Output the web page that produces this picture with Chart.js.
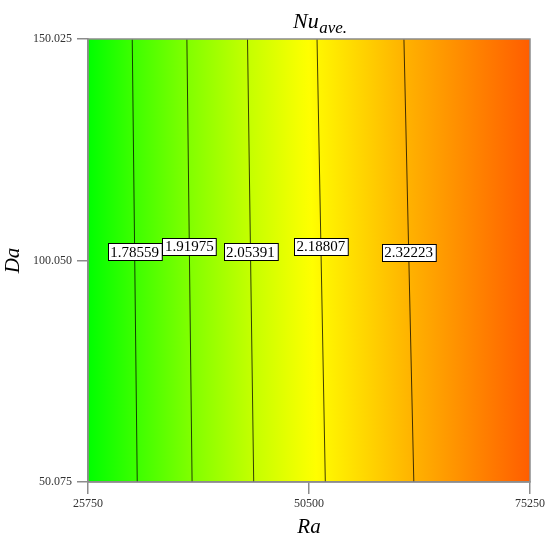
<!DOCTYPE html>
<html>
<head>
<meta charset="utf-8">
<script src="https://cdn.jsdelivr.net/npm/chart.js@4"></script>
<style>html,body{margin:0;padding:0;background:#fff}canvas{display:block}</style>
</head>
<body>
<canvas id="c" width="549" height="540"></canvas>
<script>
// Axis ranges and tick values
const raRange = [25750, 75250];
const daRange = [50.075, 150.025];
const raTicks = [25750, 50500, 75250];
const daTicks = [50.075, 100.050, 150.025];

// Contour levels of the average Nusselt number and where each isoline
// meets the top (Da = 150.025) and bottom (Da = 50.075) edges
const levels = [1.78559, 1.91975, 2.05391, 2.18807, 2.32223];
const levelRaTop = [30705, 36824, 43614, 51400, 61132];
const levelRaBottom = [31265, 37406, 44308, 52328, 62239];
// Da at which each contour label sits
const labelDa = [102.0, 103.2, 102.0, 103.2, 101.9];
// Nu along the left (Ra min) and right (Ra max) edges of the field
const edgeNu = [1.665, 2.49];

const SERIF = '"Liberation Serif", "DejaVu Serif", serif';

// Green -> yellow -> orange-red colour map over the Nu range
function nuColor(v) {
  let t = (v - edgeNu[0]) / (edgeNu[1] - edgeNu[0]);
  t = Math.max(0, Math.min(1, t));
  const hue = 120 - 98 * t;
  return 'hsl(' + hue.toFixed(2) + ',100%,50%)';
}

function raAt(i, da) {
  const f = (da - daRange[0]) / (daRange[1] - daRange[0]);
  return levelRaBottom[i] + (levelRaTop[i] - levelRaBottom[i]) * f;
}

const fieldPlugin = {
  id: 'nuField',
  beforeDraw(chart) {
    const {ctx, chartArea: a, scales: {x, y}} = chart;
    const yTop = y.getPixelForValue(daRange[1]);
    const yBot = y.getPixelForValue(daRange[0]);
    const left = x.getPixelForValue(raRange[0]);
    const right = x.getPixelForValue(raRange[1]);
    ctx.save();
    for (let py = Math.floor(a.top); py < Math.ceil(a.bottom); py++) {
      const f = (py + 0.5 - yTop) / (yBot - yTop);
      const pts = [{x: left, v: edgeNu[0]}];
      levels.forEach((lv, i) => {
        const xt = x.getPixelForValue(levelRaTop[i]);
        const xb = x.getPixelForValue(levelRaBottom[i]);
        pts.push({x: xt + (xb - xt) * f, v: lv});
      });
      pts.push({x: right, v: edgeNu[1]});
      const g = ctx.createLinearGradient(left, 0, right, 0);
      for (let s = 0; s < pts.length - 1; s++) {
        const p0 = pts[s], p1 = pts[s + 1];
        const n = 8;
        for (let k = 0; k <= n; k++) {
          const xx = p0.x + (p1.x - p0.x) * k / n;
          const vv = p0.v + (p1.v - p0.v) * k / n;
          const off = Math.max(0, Math.min(1, (xx - left) / (right - left)));
          g.addColorStop(off, nuColor(vv));
        }
      }
      ctx.fillStyle = g;
      ctx.fillRect(a.left, py, a.right - a.left, 1);
    }
    ctx.restore();
  }
};

const overlayPlugin = {
  id: 'overlay',
  afterDatasetsDraw(chart) {
    const {ctx, chartArea: a, scales: {x, y}} = chart;
    ctx.save();
    // frame
    ctx.strokeStyle = '#8c8c8c';
    ctx.lineWidth = 1.5;
    ctx.strokeRect(a.left, a.top, a.right - a.left, a.bottom - a.top);
    // contour labels
    ctx.font = '15px ' + SERIF;
    ctx.textAlign = 'center';
    ctx.textBaseline = 'middle';
    levels.forEach((lv, i) => {
      const da = labelDa[i];
      const px = x.getPixelForValue(raAt(i, da));
      const py = y.getPixelForValue(da);
      const txt = lv.toFixed(5);
      const w = ctx.measureText(txt).width + 5;
      const h = 17;
      const bx = Math.round(px - w / 2) + 0.5;
      const by = Math.round(py - h / 2) + 0.5;
      ctx.fillStyle = '#fff';
      ctx.fillRect(bx, by, w, h);
      ctx.strokeStyle = '#000';
      ctx.lineWidth = 1;
      ctx.strokeRect(bx, by, w, h);
      ctx.fillStyle = '#000';
      ctx.fillText(txt, px, py + 1);
    });
    ctx.restore();
  },
  afterDraw(chart) {
    const {ctx} = chart;
    ctx.save();
    ctx.fillStyle = '#000';
    ctx.textBaseline = 'alphabetic';
    ctx.textAlign = 'left';
    ctx.font = 'italic 22px ' + SERIF;
    const main = 'Nu';
    const x0 = 293;
    ctx.fillText(main, x0, 28);
    const w = ctx.measureText(main).width;
    ctx.font = 'italic 17px ' + SERIF;
    ctx.fillText('ave.', x0 + w + 0.5, 33);
    ctx.restore();
  }
};

const datasets = levels.map((lv, i) => ({
  label: lv.toFixed(5),
  data: [
    {x: levelRaTop[i], y: daRange[1]},
    {x: levelRaBottom[i], y: daRange[0]}
  ],
  showLine: true,
  borderColor: 'rgba(0,0,0,0.75)',
  borderWidth: 1,
  pointRadius: 0,
  fill: false
}));

const axisColor = '#8c8c8c';
const tickFont = {family: SERIF, size: 12};

new Chart(document.getElementById('c'), {
  type: 'scatter',
  data: {datasets},
  plugins: [fieldPlugin, overlayPlugin],
  options: {
    responsive: false,
    animation: false,
    devicePixelRatio: 1,
    layout: {padding: {left: 0, right: 19, top: 39, bottom: 0}},
    plugins: {legend: {display: false}, tooltip: {enabled: false}, title: {display: false}},
    scales: {
      x: {
        type: 'linear',
        min: raRange[0],
        max: raRange[1],
        afterBuildTicks(s) { s.ticks = raTicks.map(v => ({value: v})); },
        afterFit(s) { s.height = 58; },
        ticks: {
          font: tickFont, color: '#333', padding: 3, maxRotation: 0,
          callback: v => String(v)
        },
        grid: {display: true, drawOnChartArea: false, drawTicks: true, tickLength: 12, color: axisColor, lineWidth: 1.5},
        border: {display: true, color: axisColor, width: 1.5},
        title: {display: true, text: 'Ra', color: '#000', font: {family: SERIF, size: 21, style: 'italic'}, padding: {top: 0, bottom: 0}}
      },
      y: {
        type: 'linear',
        min: daRange[0],
        max: daRange[1],
        afterBuildTicks(s) { s.ticks = daTicks.map(v => ({value: v})); },
        afterFit(s) { s.width = 88; },
        ticks: {
          font: tickFont, color: '#333', padding: 5,
          callback: v => Number(v).toFixed(3)
        },
        grid: {display: true, drawOnChartArea: false, drawTicks: true, tickLength: 11, color: axisColor, lineWidth: 1.5},
        border: {display: true, color: axisColor, width: 1.5},
        title: {display: true, text: 'Da', color: '#000', font: {family: SERIF, size: 21, style: 'italic'}, padding: {top: 1, bottom: 0}}
      }
    }
  }
});
</script>
</body>
</html>
